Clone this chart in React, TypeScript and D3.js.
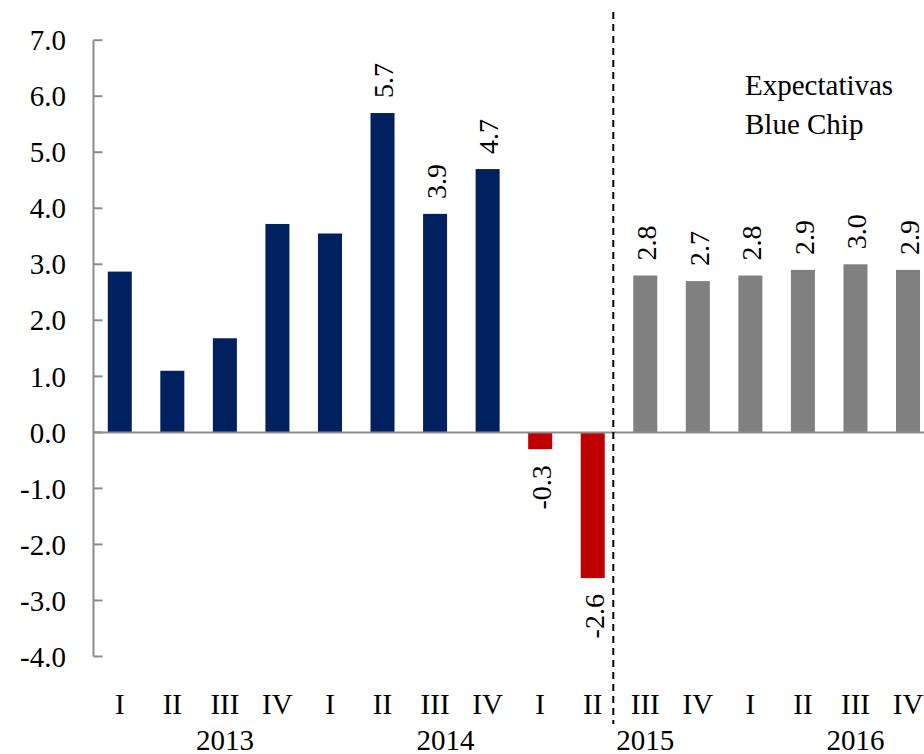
import React from "react";
import * as d3 from "d3";

// quarters shown under each bar
const quarters = ["I", "II", "III", "IV", "I", "II", "III", "IV", "I", "II", "III", "IV", "I", "II", "III", "IV"];
// GDP growth values
const values = [2.87, 1.1, 1.68, 3.72, 3.55, 5.7, 3.9, 4.7, -0.3, -2.6, 2.8, 2.7, 2.8, 2.9, 3.0, 2.9];
// which bars carry a value label
const showLabel = [false, false, false, false, false, true, true, true, true, true, true, true, true, true, true, true];
// bar kind: observed, observed negative, forecast
const kinds = ["obs", "obs", "obs", "obs", "obs", "obs", "obs", "obs", "neg", "neg", "fc", "fc", "fc", "fc", "fc", "fc"];
const years = ["2013", "2014", "2015", "2016"];
const yearPos = [2, 6.2, 10, 14];
const yTicks = [7, 6, 5, 4, 3, 2, 1, 0, -1, -2, -3, -4];

const COLORS: Record<string, string> = { obs: "#002060", neg: "#C00000", fc: "#808080" };

export default function App() {
  const width = 924;
  const height = 754;
  const left = 93.5;
  const step = 52.55;

  const x = d3.scaleBand<number>()
    .domain(values.map((_, i) => i))
    .range([left, left + step * values.length])
    .paddingInner(0.543)
    .paddingOuter(0.2715);
  const y = d3.scaleLinear().domain([-4, 7]).range([656.5, 40.2]);
  const bw = x.bandwidth();
  const cx = (i: number) => (x(i) as number) + bw / 2;
  const font = "'Liberation Serif', 'Times New Roman', serif";
  const dashX = (x(10) as number) - x.step() * 0.38;

  return (
    <svg width={width} height={height} style={{ position: "absolute", left: 0, top: 0 }}>
      <rect width={width} height={height} fill="#fff" />
      {/* bars */}
      {values.map((v, i) => (
        <rect key={"b" + i} x={x(i)} y={y(Math.max(0, v))} width={bw}
          height={Math.abs(y(v) - y(0))} fill={COLORS[kinds[i]]} />
      ))}
      {/* y axis */}
      <line x1={left} x2={left} y1={y(7)} y2={y(-4)} stroke="#8c8c8c" strokeWidth={2} />
      {yTicks.map((t) => (
        <g key={"t" + t}>
          <line x1={left} x2={left + 9} y1={y(t)} y2={y(t)} stroke="#8c8c8c" strokeWidth={2} />
          <text x={66} y={y(t)} dy="0.35em" textAnchor="end" fontFamily={font} fontSize={29} fill="#000">
            {t.toFixed(1)}
          </text>
        </g>
      ))}
      {/* zero line */}
      <line x1={left} x2={width} y1={y(0)} y2={y(0)} stroke="#8c8c8c" strokeWidth={2} />
      {/* value labels */}
      {values.map((v, i) => {
        if (!showLabel[i]) return null;
        const ly = v >= 0 ? y(v) - 15 : y(v) + 16;
        return (
          <text key={"l" + i} transform={`translate(${cx(i) + 1},${ly}) rotate(-90)`}
            textAnchor={v >= 0 ? "start" : "end"} dy="0.35em" fontFamily={font} fontSize={28} fill="#000">
            {v.toFixed(1)}
          </text>
        );
      })}
      {/* forecast separator */}
      <line x1={dashX} x2={dashX} y1={12} y2={724} stroke="#000" strokeWidth={2} strokeDasharray="7,5" />
      <text x={745} y={95} fontFamily={font} fontSize={29} fill="#000">Expectativas</text>
      <text x={745} y={134} fontFamily={font} fontSize={29} fill="#000">Blue Chip</text>
      {/* category labels */}
      {quarters.map((q, i) => (
        <text key={"q" + i} x={cx(i)} y={714} textAnchor="middle" fontFamily={font} fontSize={29} fill="#000">
          {q}
        </text>
      ))}
      {years.map((yr, i) => (
        <text key={"y" + yr} x={cx(0) + yearPos[i] * x.step()} y={750} textAnchor="middle"
          fontFamily={font} fontSize={29} fill="#000">
          {yr}
        </text>
      ))}
    </svg>
  );
}
